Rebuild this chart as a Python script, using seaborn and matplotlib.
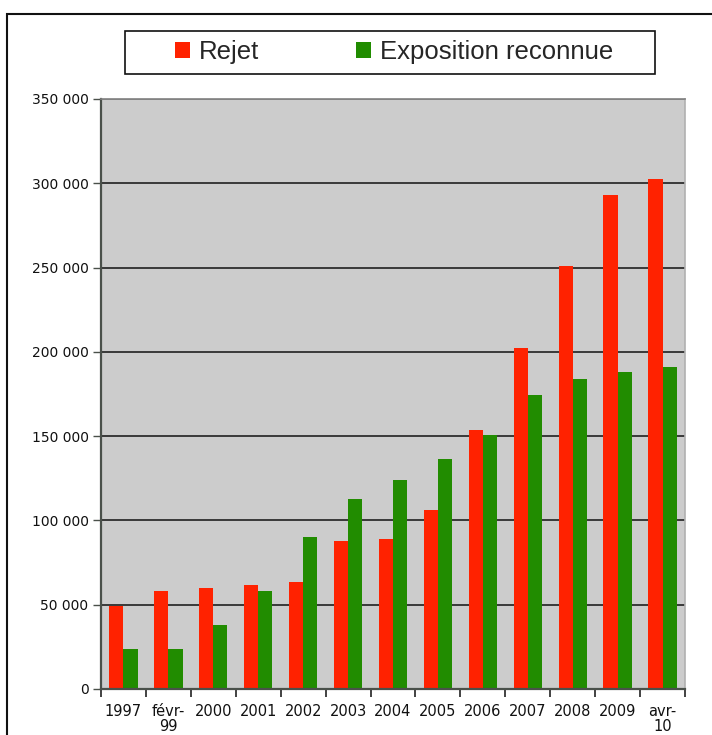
import numpy as np
import pandas as pd
import matplotlib
matplotlib.use("Agg")
import matplotlib.pyplot as plt
import matplotlib.ticker as mticker
from matplotlib.patches import Rectangle
import seaborn as sns

categories = ["1997", "févr-\n99", "2000", "2001", "2002", "2003", "2004",
              "2005", "2006", "2007", "2008", "2009", "avr-\n10"]
rejet = [49500, 58000, 59700, 61700, 63600, 88000, 89000,
         106000, 153600, 202000, 251000, 293000, 302500]
exposition = [23700, 23700, 38000, 58000, 90000, 113000, 124000,
              136600, 150800, 174400, 183900, 187800, 190800]
series_names = ["Rejet", "Exposition reconnue"]
yticks = [0, 50000, 100000, 150000, 200000, 250000, 300000, 350000]

RED = "#FF2200"
GREEN = "#218C00"

df = pd.DataFrame({
    "cat": categories * 2,
    "val": rejet + exposition,
    "serie": [series_names[0]] * len(categories) + [series_names[1]] * len(categories),
})

sns.set_style("white")
plt.rcParams["font.family"] = ["DejaVu Sans"]

fig = plt.figure(figsize=(7.12, 7.35), dpi=100)
W, H = 712, 735
ax = fig.add_axes([101 / W, 1 - 689 / H, (685 - 101) / W, (689 - 99) / H])

sns.barplot(data=df, x="cat", y="val", hue="serie", order=categories,
            hue_order=series_names, palette=[RED, GREEN], width=0.63,
            saturation=1, ax=ax, errorbar=None, linewidth=0)

handles, labels = ax.get_legend_handles_labels()
if ax.get_legend() is not None:
    ax.get_legend().remove()

ax.set_facecolor("#CCCCCC")
ax.set_ylim(0, 350000)
ax.set_xlim(-0.5, len(categories) - 0.5)
ax.set_yticks(yticks)
ax.yaxis.set_major_formatter(mticker.FuncFormatter(lambda v, p: f"{int(v):,}".replace(",", " ")))
ax.set_xlabel("")
ax.set_ylabel("")

ax.set_axisbelow(True)
ax.yaxis.grid(True, color="#111111", lw=1.1)
ax.xaxis.grid(False)
gl = ax.get_ygridlines()
gl[-1].set_color("#808080")
gl[0].set_visible(False)

for s in ["left", "bottom"]:
    ax.spines[s].set_color("#4A504A")
    ax.spines[s].set_linewidth(1.6)
ax.spines["top"].set_color("#808080")
ax.spines["top"].set_linewidth(1.2)
ax.spines["right"].set_color("#B0B0B0")
ax.spines["right"].set_linewidth(1.2)

ax.tick_params(axis="y", which="major", direction="out", length=6, width=1,
               color="#4A504A", labelsize=10, pad=3, left=True, labelcolor="#111111")
ax.tick_params(axis="x", which="major", length=0, labelsize=10.5, pad=11,
               labelcolor="#111111")
ax.xaxis.set_minor_locator(mticker.FixedLocator(np.arange(-0.5, len(categories), 1)))
ax.tick_params(axis="x", which="minor", direction="out", length=6, width=1.2,
               color="#222222", bottom=True)
for t in ax.get_xticklabels():
    t.set_linespacing(0.95)
    t.set_verticalalignment("top")

# outer frame
fig.patches.append(Rectangle((7 / W, -0.05), 1.0, 1 - 14 / H + 0.05,
                             transform=fig.transFigure, fill=False,
                             edgecolor="#111111", lw=1.5))
# legend box
fig.patches.append(Rectangle((125 / W, 1 - 74 / H), 530 / W, 43 / H,
                             transform=fig.transFigure, facecolor="white",
                             edgecolor="#111111", lw=1.2, zorder=1))

leg = fig.legend(handles, labels, loc="center", bbox_to_anchor=(394 / W, 1 - 52.5 / H),
                 ncol=2, frameon=False, prop={"family": "Liberation Sans", "size": 18.5},
                 handlelength=0.58, handleheight=0.58, handletextpad=0.35,
                 columnspacing=3.75)
leg.set_zorder(3)

fig.savefig("out.png", dpi=100)
